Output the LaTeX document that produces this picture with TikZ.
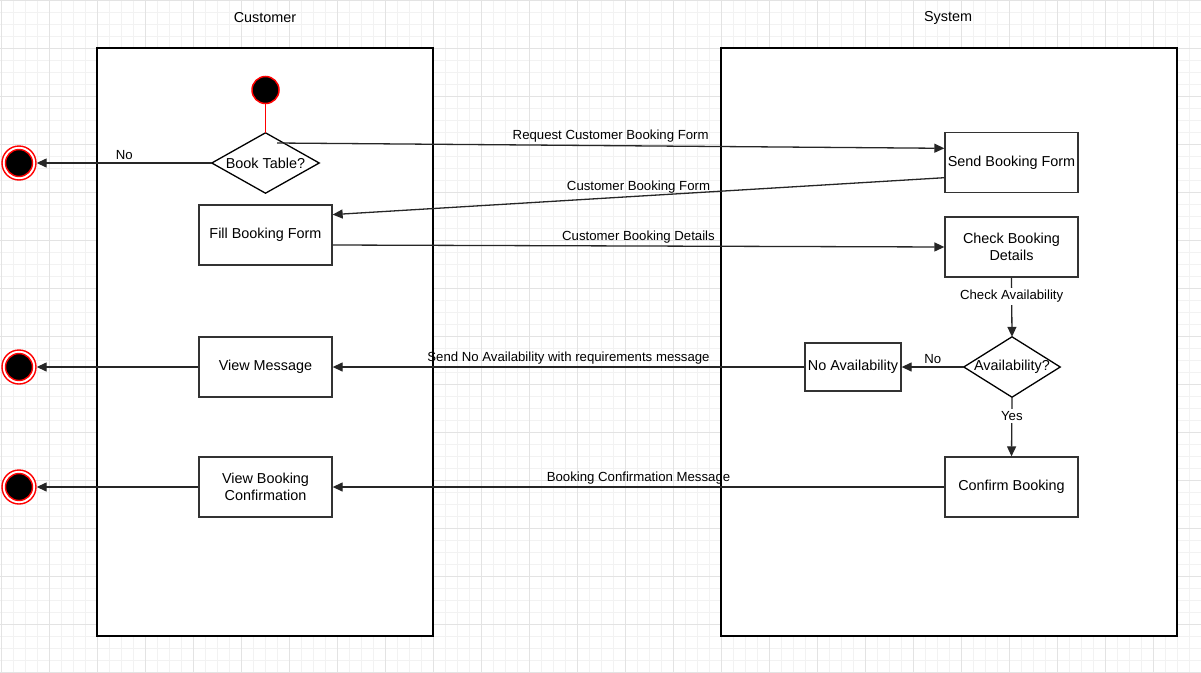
\documentclass[tikz,border=0pt]{standalone}
\usepackage{fontspec}
\setmainfont{Liberation Sans}
\usetikzlibrary{arrows.meta}

\definecolor{gridminor}{HTML}{F2F2F2}
\definecolor{gridmajor}{HTML}{E3E3E3}
\definecolor{boxline}{HTML}{333333}

\tikzset{
  lane/.style={draw=black,fill=white,line width=1.3pt},
  action/.style={draw=boxline,fill=white,line width=1.3pt,rectangle,minimum width=133pt,minimum height=60pt,inner sep=0pt,align=center,font=\fontsize{14.4}{17}\selectfont},
  decision/.style={rectangle,inner sep=0pt,font=\fontsize{14.4}{17}\selectfont},
  startnode/.style={circle,draw=red,fill=black,line width=1.5pt,minimum size=27pt,inner sep=0pt},
  endring/.style={circle,draw=red,fill=white,line width=1.4pt,minimum size=34pt,inner sep=0pt},
  endcore/.style={circle,draw=red,fill=black,line width=1.4pt,minimum size=27pt,inner sep=0pt},
  flow/.style={draw=black!85,line width=1.3pt,-{Triangle[length=10pt,width=9pt]}},
  lbl/.style={font=\fontsize{13.2}{15}\selectfont,inner sep=2.5pt},
  title/.style={font=\fontsize{14.4}{17}\selectfont}
}

\begin{document}
\begin{tikzpicture}[x=1pt,y=-1pt]
    \useasboundingbox (0,0) rectangle (1201,672);

    % background grid
    \foreach \gx in {1,13,...,1201} \draw[gridminor,line width=1pt] (\gx,0) -- (\gx,672);
    \foreach \gy in {0,12,...,672} \draw[gridminor,line width=1pt] (0,\gy) -- (1201,\gy);
    \foreach \gx in {1,49,...,1201} \draw[gridmajor,line width=1pt] (\gx,0) -- (\gx,672);
    \foreach \gy in {0,48,...,672} \draw[gridmajor,line width=1pt] (0,\gy) -- (1201,\gy);

    % swimlanes
    \draw[lane] (97,48) rectangle (433,636);
    \draw[lane] (721,48) rectangle (1177,636);
    \node[title] (customer) at (265,18) {Customer};
    \node[title] (system) at (948,18) {System};

    % customer side
    \node[startnode] (start) at (265.5,90) {};
    \node[decision,minimum width=107pt,minimum height=60pt] (book) at (265.5,163) {Book Table?};
    \draw[black,line width=1.3pt,fill=white] (book.north) -- (book.east) -- (book.south) -- (book.west) -- cycle;
    \node[decision] at (book) {Book Table?};
    \node[action] (fill) at (265.5,235) {Fill Booking Form};
    \node[action] (viewmsg) at (265.5,367) {View Message};
    \node[action] (viewconf) at (265.5,487) {View Booking\\Confirmation};

    % end nodes
    \node[endring] (endA) at (19,163) {};
    \node[endcore] at (endA) {};
    \node[endring] (endB) at (19,367) {};
    \node[endcore] at (endB) {};
    \node[endring] (endC) at (19,487) {};
    \node[endcore] at (endC) {};

    % system side
    \node[action] (send) at (1011.5,162.7) {Send Booking Form};
    \node[action] (check) at (1011.5,247) {Check Booking\\Details};
    \node[decision,minimum width=96pt,minimum height=60pt] (avail) at (1012,367) {Availability?};
    \draw[black,line width=1.3pt,fill=white] (avail.north) -- (avail.east) -- (avail.south) -- (avail.west) -- cycle;
    \node[decision] at (avail) {Availability?};
    \node[action,minimum width=96pt,minimum height=48pt] (noavail) at (853,367) {No Availability};
    \node[action] (confirm) at (1011.5,487) {Confirm Booking};

    % connectors
    \coordinate (reqstart) at (277,143);
    \draw[red,line width=1.4pt] (start) -- (book.north);
    \draw[flow] (book.west) -- node[lbl,midway,above] {No} (endA);
    \draw[flow] (reqstart) -- node[lbl,midway,above] {Request Customer Booking Form} ([yshift=14.4pt]send.west);
    \draw[flow] ([yshift=-15pt]send.west) -- node[lbl,midway,above] {Customer Booking Form} ([yshift=20.4pt]fill.east);
    \draw[flow] ([yshift=-10pt]fill.east) -- node[lbl,midway,above] {Customer Booking Details} (check.west);
    \draw[flow] (check.south) -- node[lbl,pos=0.32,fill=white] {Check Availability} (avail.north);
    \draw[flow] (avail.west) -- node[lbl,midway,above] {No} (noavail.east);
    \draw[flow] (avail.south) -- node[lbl,pos=0.32,fill=white] {Yes} (confirm.north);
    \draw[flow] (noavail.west) -- node[lbl,midway,above] {Send No Availability with requirements message} (viewmsg.east);
    \draw[flow] (confirm.west) -- node[lbl,midway,above] {Booking Confirmation Message} (viewconf.east);
    \draw[flow] (viewmsg.west) -- (endB);
    \draw[flow] (viewconf.west) -- (endC);
\end{tikzpicture}
\end{document}
